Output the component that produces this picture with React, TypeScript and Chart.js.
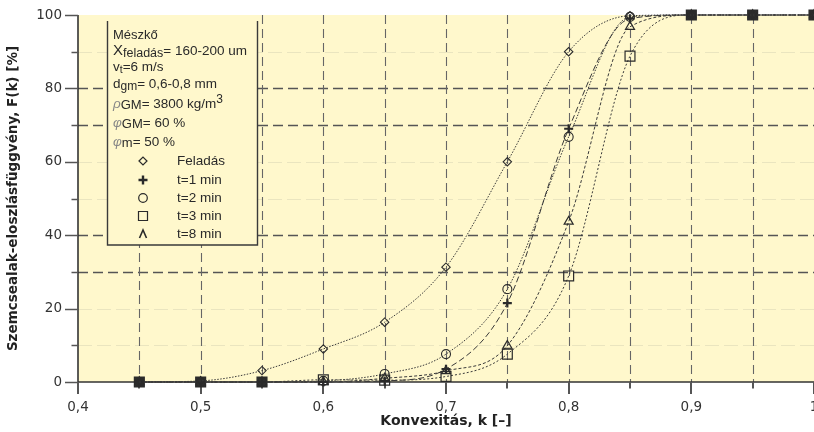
import React, { useEffect, useRef } from 'react';
import { Chart, registerables } from 'chart.js';

Chart.register(...registerables);

// ---- data ----
const kValues = [0.45, 0.5, 0.55, 0.6, 0.65, 0.7, 0.75, 0.8, 0.85, 0.9, 0.95, 1.0];
const feladas = [0, 0.3, 3.1, 9, 16.3, 31.3, 60, 90, 99.8, 100, 100, 100];
const t1min = [0, 0, 0, 0, 0.3, 3.5, 21.5, 69, 99, 100, 100, 100];
const t2min = [0, 0, 0, 0.3, 2.2, 7.6, 25.3, 66.8, 99.5, 100, 100, 100];
const t3min = [0, 0, 0, 0.6, 0.5, 1.5, 7.6, 28.9, 88.8, 100, 100, 100];
const t8min = [0, 0, 0, 0, 1, 3, 9.9, 43.7, 96.8, 100, 100, 100];

const seriesNames = ['Feladás', 't=1 min', 't=2 min', 't=3 min', 't=8 min'];

const xMinorTicks = [0.45, 0.55, 0.65, 0.75, 0.85, 0.95];
const yMinorTicks = [10, 30, 50, 70, 90];
const vertGrid = [0.45, 0.5, 0.55, 0.6, 0.65, 0.7, 0.75, 0.8, 0.85, 0.9, 0.95];
const horizGrid = [30, 40, 70, 80];
const faintGrid = [10, 20, 50, 60, 90];

const FONT = '"Liberation Sans", Arial, Helvetica, sans-serif';
const AXFONT = '"DejaVu Sans", Verdana, sans-serif';
const BG = '#FFF8CC';
const INK = '#2a2a2a';

type Run = { t: string; size: number; dy: number; color?: string; italic?: boolean };
const infoLines: { y: number; runs: Run[] }[] = [
  { y: 35, runs: [{ t: 'Mészkő', size: 13, dy: 0 }] },
  { y: 51, runs: [{ t: 'X', size: 15, dy: 0 }, { t: 'feladás', size: 12.5, dy: 3 }, { t: '= 160-200 um', size: 13.5, dy: 0 }] },
  { y: 67, runs: [{ t: 'v', size: 13.5, dy: 0 }, { t: 't', size: 10.5, dy: 3 }, { t: '=6 m/s', size: 13.5, dy: 0 }] },
  { y: 84, runs: [{ t: 'd', size: 13.5, dy: 0 }, { t: 'gm', size: 12, dy: 3 }, { t: '= 0,6-0,8 mm', size: 13.5, dy: 0 }] },
  { y: 104, runs: [{ t: 'ρ', size: 13.5, dy: 0, color: '#888', italic: true }, { t: 'GM', size: 13, dy: 1.5 }, { t: '= 3800 kg/m', size: 13.5, dy: 0 }, { t: '3', size: 12, dy: -4 }] },
  { y: 123, runs: [{ t: 'φ', size: 13.5, dy: 0, color: '#888', italic: true }, { t: 'GM', size: 13, dy: 1 }, { t: '= 60 %', size: 13.5, dy: 0 }] },
  { y: 142, runs: [{ t: 'φ', size: 13.5, dy: 0, color: '#888', italic: true }, { t: 'm', size: 13, dy: 1 }, { t: '= 50 %', size: 13.5, dy: 0 }] },
];
const legendRowsY = [161, 180, 198, 216, 234];

function drawMarker(ctx: CanvasRenderingContext2D, kind: number, x: number, y: number) {
  ctx.save();
  ctx.strokeStyle = INK;
  ctx.lineWidth = 1.2;
  ctx.beginPath();
  if (kind === 0) {
    ctx.moveTo(x - 4, y); ctx.lineTo(x, y - 4); ctx.lineTo(x + 4, y); ctx.lineTo(x, y + 4); ctx.closePath();
  } else if (kind === 1) {
    ctx.lineWidth = 2.4;
    ctx.moveTo(x - 4.5, y); ctx.lineTo(x + 4.5, y); ctx.moveTo(x, y - 4.5); ctx.lineTo(x, y + 4.5);
  } else if (kind === 2) {
    ctx.arc(x, y, 4.3, 0, Math.PI * 2);
  } else if (kind === 3) {
    ctx.rect(x - 4.5, y - 4.5, 9, 9);
  } else {
    ctx.lineWidth = 1.6;
    ctx.moveTo(x - 3.5, y + 4); ctx.lineTo(x, y - 4); ctx.lineTo(x + 3.5, y + 4);
  }
  ctx.stroke();
  ctx.restore();
}

const decor = {
  id: 'decor',
  beforeDraw(chart: any) {
    const { ctx, chartArea: a } = chart;
    ctx.save();
    ctx.fillStyle = BG;
    ctx.fillRect(a.left, a.top, a.right - a.left, a.bottom - a.top);
    ctx.restore();
  },
  beforeDatasetsDraw(chart: any) {
    const { ctx, chartArea: a } = chart;
    const xs = chart.scales.x;
    const ys = chart.scales.y;
    ctx.save();
    // faint lines
    ctx.strokeStyle = 'rgba(170,170,150,0.25)';
    ctx.lineWidth = 1;
    ctx.setLineDash([14, 5]);
    for (const v of faintGrid) {
      const py = Math.round(ys.getPixelForValue(v)) + 0.5;
      ctx.beginPath(); ctx.moveTo(a.left, py); ctx.lineTo(a.right, py); ctx.stroke();
    }
    // dashed horizontal
    ctx.strokeStyle = '#555';
    ctx.lineWidth = 1.3;
    ctx.setLineDash([10, 5]);
    for (const v of horizGrid) {
      const py = Math.round(ys.getPixelForValue(v)) + 0.5;
      ctx.beginPath(); ctx.moveTo(a.left, py); ctx.lineTo(a.right, py); ctx.stroke();
    }
    // dashed vertical
    ctx.strokeStyle = '#666';
    ctx.lineWidth = 1.1;
    ctx.setLineDash([9, 5]);
    for (const k of vertGrid) {
      const px = Math.round(xs.getPixelForValue(k)) + 0.5;
      ctx.beginPath(); ctx.moveTo(px, a.top); ctx.lineTo(px, a.bottom); ctx.stroke();
    }
    ctx.setLineDash([]);

    // info / legend box
    const L = a.left + 29.5, R = a.left + 179.5, T = a.top + 6, B = a.top + 230;
    ctx.fillStyle = BG;
    ctx.fillRect(L, a.top, R - L, B - a.top);
    ctx.strokeStyle = '#3a3a3a';
    ctx.lineWidth = 1.4;
    ctx.beginPath(); ctx.moveTo(L, T); ctx.lineTo(L, B); ctx.lineTo(R, B); ctx.lineTo(R, T); ctx.stroke();

    ctx.textBaseline = 'middle';
    ctx.textAlign = 'left';
    for (const line of infoLines) {
      let cx = L + 5.5;
      for (const r of line.runs) {
        ctx.font = `${r.italic ? 'italic ' : ''}${r.size}px ${FONT}`;
        ctx.fillStyle = r.color || INK;
        ctx.fillText(r.t, cx, line.y + r.dy);
        cx += ctx.measureText(r.t).width;
      }
    }
    ctx.font = `13.5px ${FONT}`;
    seriesNames.forEach((name, i) => {
      drawMarker(ctx, i, L + 35.5, legendRowsY[i]);
      ctx.fillStyle = INK;
      ctx.fillText(name, L + 69.5, legendRowsY[i]);
    });

    // axis lines
    ctx.strokeStyle = '#333';
    ctx.lineWidth = 1.6;
    ctx.beginPath(); ctx.moveTo(a.left, a.bottom); ctx.lineTo(a.right, a.bottom); ctx.stroke();
    ctx.beginPath(); ctx.moveTo(a.left, a.top); ctx.lineTo(a.left, a.bottom); ctx.stroke();

    // ticks
    ctx.strokeStyle = '#555';
    ctx.lineWidth = 2;
    for (const t of xs.ticks) {
      const px = Math.round(xs.getPixelForValue(t.value));
      ctx.beginPath(); ctx.moveTo(px, a.bottom); ctx.lineTo(px, a.bottom + 12); ctx.stroke();
    }
    for (const k of xMinorTicks) {
      const px = Math.round(xs.getPixelForValue(k));
      ctx.beginPath(); ctx.moveTo(px, a.bottom); ctx.lineTo(px, a.bottom + 6.5); ctx.stroke();
    }
    ctx.lineWidth = 1.5;
    for (const t of ys.ticks) {
      const py = Math.round(ys.getPixelForValue(t.value)) + 0.5;
      ctx.beginPath(); ctx.moveTo(a.left - 13, py); ctx.lineTo(a.left, py); ctx.stroke();
    }
    for (const v of yMinorTicks) {
      const py = Math.round(ys.getPixelForValue(v)) + 0.5;
      ctx.beginPath(); ctx.moveTo(a.left - 6.5, py); ctx.lineTo(a.left, py); ctx.stroke();
    }
    ctx.restore();
  },
};

// where all milling-time series coincide, the overlapping markers read as a filled square
const coincide = kValues.map((_, i) => t1min[i] === t2min[i] && t2min[i] === t3min[i] && t3min[i] === t8min[i]);

function makeSet(values: number[], style: any, radius: number, dash: number[], bw: number, fillOverlap = false) {
  return {
    data: kValues.map((k, i) => ({ x: k, y: values[i] })),
    borderColor: '#3a3a3a',
    borderWidth: 1,
    borderDash: dash,
    pointStyle: style,
    pointRadius: radius,
    pointBorderColor: INK,
    pointBackgroundColor: fillOverlap ? coincide.map((c) => (c ? '#2f2f2f' : 'rgba(0,0,0,0)')) : 'rgba(0,0,0,0)',
    pointBorderWidth: bw,
    cubicInterpolationMode: 'monotone',
    fill: false,
    clip: false,
  };
}

export default function App() {
  const ref = useRef<HTMLCanvasElement | null>(null);
  useEffect(() => {
    document.body.style.margin = '0';
    if (!ref.current) return;
    const tickFont = { family: AXFONT, size: 13.5 };
    const chart = new Chart(ref.current, {
      type: 'line',
      data: {
        datasets: [
          makeSet(feladas, 'rectRot', 4.2, [1.5, 1.5], 1.1),
          makeSet(t1min, 'cross', 4.5, [6, 3], 2.2),
          makeSet(t2min, 'circle', 4.5, [1.5, 1.5], 1.1),
          makeSet(t3min, 'rect', 7, [2, 2], 1.2, true),
          makeSet(t8min, 'triangle', 5.2, [3, 2], 1.2),
        ] as any,
      },
      options: {
        animation: false,
        responsive: false,
        maintainAspectRatio: false,
        layout: { autoPadding: false, padding: { top: 15, right: -1, left: 0, bottom: 0 } },
        plugins: { legend: { display: false }, tooltip: { enabled: false } },
        scales: {
          x: {
            type: 'linear',
            min: 0.4,
            max: 1.0,
            ticks: {
              stepSize: 0.1,
              autoSkip: false,
              maxRotation: 0,
              padding: 4,
              color: '#333',
              font: tickFont,
              callback: (v: any) => (Math.abs(v - 1) < 1e-9 ? '1' : Number(v).toFixed(1).replace('.', ',')),
            },
            grid: { display: true, drawOnChartArea: false, drawTicks: true, tickLength: 13, color: 'rgba(0,0,0,0)' },
            border: { display: false },
            title: {
              display: true,
              text: 'Konvexitás, k [–]',
              color: '#222',
              font: { family: AXFONT, size: 14, weight: 'bold' },
              padding: { top: 0, bottom: 2 },
            },
            afterFit: (s: any) => { s.height = 50; s.paddingLeft = 0; s.paddingRight = 0; },
          },
          y: {
            type: 'linear',
            min: 0,
            max: 100,
            ticks: { stepSize: 20, padding: 4, color: '#333', font: tickFont },
            grid: { display: true, drawOnChartArea: false, drawTicks: true, tickLength: 12, color: 'rgba(0,0,0,0)' },
            border: { display: false },
            title: {
              display: true,
              text: 'Szemcsealak-eloszlásfüggvény, F(k) [%]',
              color: '#222',
              font: { family: AXFONT, size: 13.5, weight: 'bold' },
              padding: { top: 5, bottom: 0 },
            },
            afterFit: (s: any) => { s.width = 78; s.paddingTop = 0; s.paddingBottom = 0; },
          },
        },
      } as any,
      plugins: [decor],
    });
    return () => chart.destroy();
  }, []);
  return (
    <div style={{ position: 'fixed', left: 0, top: 0, width: 814, height: 432, background: '#fff' }}>
      <canvas ref={ref} width={814} height={432} />
    </div>
  );
}
